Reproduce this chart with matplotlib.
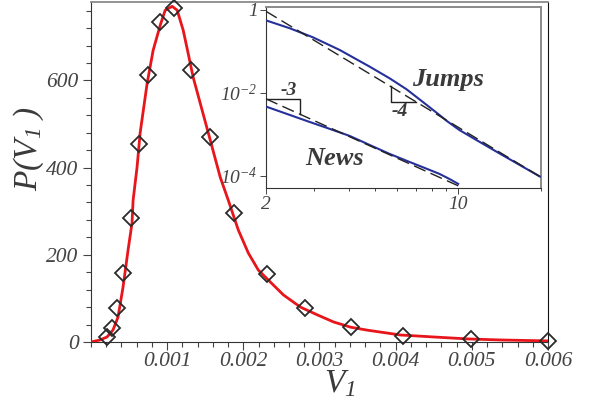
import matplotlib
matplotlib.use("Agg")
import matplotlib.pyplot as plt
from matplotlib.ticker import MultipleLocator, FixedLocator, FixedFormatter, LogLocator, NullFormatter

plt.rcParams['font.family'] = ['Liberation Serif', 'DejaVu Serif']
plt.rcParams['font.style'] = 'italic'
plt.rcParams['mathtext.fontset'] = 'custom'
plt.rcParams['mathtext.rm'] = 'Liberation Serif:italic'
plt.rcParams['mathtext.it'] = 'Liberation Serif:italic'

# ---- main panel: distribution of V1 ----
v1_points = [0.000211, 0.000276, 0.000342, 0.000421, 0.000526, 0.000632, 0.00075,
             0.000908, 0.00109, 0.001316, 0.001566, 0.00188, 0.002316, 0.002816,
             0.003408, 0.004092, 0.004987, 0.006]
p_points = [11.5, 32, 78, 158, 284, 454, 612, 735, 767, 625, 470, 296, 156, 78,
            34, 14, 7, 3]

v1_fit = [0.0, 0.000118, 0.000211, 0.000289, 0.000355, 0.000421, 0.000487, 0.000539,
          0.000553, 0.000605, 0.000645, 0.000737, 0.000816, 0.000908, 0.000974,
          0.001066, 0.001132, 0.001211, 0.001276, 0.001342, 0.001434, 0.001566,
          0.001697, 0.001803, 0.001934, 0.002066, 0.002197, 0.002329, 0.002526,
          0.00275, 0.002974, 0.003184, 0.003408, 0.003632, 0.004066, 0.0045,
          0.004947, 0.005382, 0.006]
p_fit = [0, 4.6, 11.5, 27.5, 57, 126, 211, 273, 325, 401, 479, 593, 669, 726, 761,
         770, 761, 715, 662, 607, 548, 463, 378, 325, 257, 204, 165, 142, 108, 80,
         62, 46, 34, 27, 16, 11.5, 7, 4.6, 2.5]

x_ticks = [0.001, 0.002, 0.003, 0.004, 0.005, 0.006]
x_tick_labels = ['0.001', '0.002', '0.003', '0.004', '0.005', '0.006']
y_ticks = [0, 200, 400, 600]
y_tick_labels = ['0', '200', '400', '600']

# ---- inset: tails on log-log axes ----
jumps_x = [2.017, 2.443, 2.960, 3.709, 4.763, 5.627, 6.487, 7.413, 8.541, 9.055,
           10.09, 11.63, 14.09, 19.83]
jumps_p = [0.552, 0.362, 0.220, 0.1086, 0.0431, 0.0226, 0.01227, 6.17e-3, 2.95e-3,
           2.15e-3, 1.28e-3, 7.36e-4, 3.52e-4, 9.62e-5]
news_x = [2.017, 2.44, 2.88, 3.41, 4.03, 4.76, 5.63, 6.65, 7.54, 8.54, 9.28, 10.0]
news_p = [4.60e-3, 2.95e-3, 2.00e-3, 1.36e-3, 9.20e-4, 5.58e-4, 3.39e-4, 2.17e-4,
          1.56e-4, 1.12e-4, 8.47e-5, 6.41e-5]

# power-law guides  P = amp * (x / 2) ** slope
jumps_amp, jumps_slope = 0.93, -4
news_amp, news_slope = 7.2e-3, -3
jumps_guide_x = [2, 20]
news_guide_x = [2, 10]

inset_x_ticks = [2, 10]
inset_x_labels = ['2', '10']
inset_y_ticks = [1e-4, 1e-2, 1]
inset_y_labels = [r'$10^{-4}$', r'$10^{-2}$', r'$1$']

TXT = '#3a3a3a'
TICKC = '#444444'

fig = plt.figure(figsize=(5.9, 4.03), dpi=100)
ax = fig.add_axes([0.1542, 0.1514, 0.7746, 0.8437])

ax.plot(v1_fit, p_fit, color='#e8151b', lw=2.0, zorder=3)
ax.plot(v1_points, p_points, linestyle='none', marker='D', ms=8.5, mfc='none',
        mec='#2a2a2a', mew=1.3, zorder=4, clip_on=False)

ax.set_xlim(0, 0.006)
ax.set_ylim(0, 780)
ax.xaxis.set_major_locator(FixedLocator(x_ticks))
ax.xaxis.set_major_formatter(FixedFormatter(x_tick_labels))
ax.yaxis.set_major_locator(FixedLocator(y_ticks))
ax.yaxis.set_major_formatter(FixedFormatter(y_tick_labels))
ax.xaxis.set_minor_locator(MultipleLocator(0.0002))
ax.yaxis.set_minor_locator(MultipleLocator(40))
ax.tick_params(which='both', direction='out', colors=TICKC, width=0.8)
ax.tick_params(which='major', length=6, labelsize=15.5, labelcolor=TICKC)
ax.tick_params(which='minor', length=3.5)
ax.tick_params(axis='x', which='major', pad=1.5)
ax.tick_params(axis='y', which='major', pad=3)

ax.spines['left'].set_color('#333333')
ax.spines['bottom'].set_color('#333333')
ax.spines['top'].set_color('#8a8a8a')
ax.spines['top'].set_linewidth(1.3)
ax.spines['right'].set_color('#111111')
ax.spines['right'].set_linewidth(0.8)

ax.set_ylabel(r'$P(V_1\ )$', fontsize=24, color=TXT)
ax.yaxis.set_label_coords(-0.098, 0.57)
ax.set_xlabel(r'$V_1$', fontsize=24, color=TXT)
ax.xaxis.set_label_coords(0.545, -0.078)

# ---- inset ----
ins = fig.add_axes([0.4508, 0.5335, 0.4661, 0.4491])
ins.set_xscale('log')
ins.set_yscale('log')

ins.plot(jumps_x, jumps_p, color='#26309a', lw=1.5, zorder=3)
ins.plot(news_x, news_p, color='#26309a', lw=1.5, zorder=3)

jg_y = [jumps_amp * (x / 2) ** jumps_slope for x in jumps_guide_x]
ng_y = [news_amp * (x / 2) ** news_slope for x in news_guide_x]
ins.plot(jumps_guide_x, jg_y, color='#222222', lw=1.0, dashes=(9, 4), zorder=4)
ins.plot(news_guide_x, ng_y, color='#222222', lw=1.0, dashes=(9, 4), zorder=4)

# slope triangles
n_x1, n_x2 = 2.0, 2.66
n_y1 = news_amp * (n_x1 / 2) ** news_slope
n_y2 = news_amp * (n_x2 / 2) ** news_slope
ins.plot([n_x1, n_x2, n_x2], [n_y1, n_y1, n_y2], color='#222222', lw=1.0)

j_x1, j_x2 = 5.68, 7.04
j_y1 = jumps_amp * (j_x1 / 2) ** jumps_slope
j_y2 = jumps_amp * (j_x2 / 2) ** jumps_slope
ins.plot([j_x1, j_x1, j_x2], [j_y1, j_y2, j_y2], color='#222222', lw=1.0)

ins.set_xlim(2, 20)
ins.set_ylim(5.1e-5, 1.18)
ins.xaxis.set_major_locator(FixedLocator(inset_x_ticks))
ins.xaxis.set_major_formatter(FixedFormatter(inset_x_labels))
ins.xaxis.set_minor_locator(LogLocator(base=10, subs=range(2, 10)))
ins.xaxis.set_minor_formatter(NullFormatter())
ins.yaxis.set_major_locator(FixedLocator(inset_y_ticks))
ins.yaxis.set_major_formatter(FixedFormatter(inset_y_labels))
ins.yaxis.set_minor_locator(LogLocator(base=10, subs=range(2, 10)))
ins.yaxis.set_minor_formatter(NullFormatter())
ins.tick_params(which='both', direction='out', colors=TICKC, width=0.7)
ins.tick_params(which='major', length=4, labelsize=14, labelcolor=TICKC, pad=2)
ins.tick_params(which='minor', length=2.5)

ins.spines['left'].set_color('#333333')
ins.spines['bottom'].set_color('#333333')
for s in ('top', 'right'):
    ins.spines[s].set_color('#8a8a8a')
    ins.spines[s].set_linewidth(1.4)

bold_it = dict(fontweight='bold', fontstyle='italic', color=TXT,
               transform=ins.transAxes)
ins.text(0.662, 0.5635, 'Jumps', fontsize=19, ha='center', va='baseline', **bold_it)
ins.text(0.251, 0.127, 'News', fontsize=19, ha='center', va='baseline', **bold_it)
ins.text(0.084, 0.541, '-3', fontsize=14, ha='center', va='center', **bold_it)
ins.text(0.487, 0.425, '-4', fontsize=14, ha='center', va='center', **bold_it)

fig.savefig('out.png', dpi=100)
